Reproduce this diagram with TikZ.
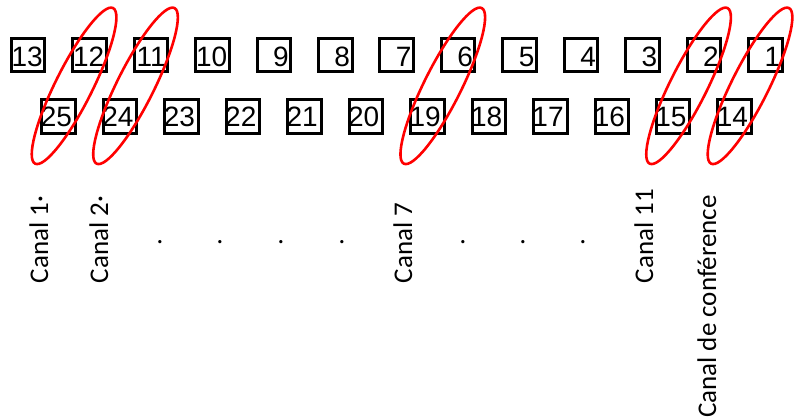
\documentclass[tikz,border=0pt]{standalone}
\usepackage{fontspec}
\setmainfont{Carlito}
\newfontfamily\numfont{Liberation Sans}
\usetikzlibrary{shapes.geometric,calc}
\begin{document}
\begin{tikzpicture}[x=1pt,y=-1pt,
  numbox/.style={draw=black, line width=3pt, minimum size=33.5pt, inner sep=0pt},
  numlbl/.style={inner sep=0pt, anchor=base east, font=\numfont\fontsize{28}{30}\selectfont},
  ring/.style={draw=red, line width=2.6pt, ellipse, minimum width=174pt, minimum height=37pt, inner sep=0pt, rotate=63.4},
  lbl/.style={inner sep=0pt, rotate=90, anchor=base west, font=\fontsize{27}{30}\selectfont}]
\useasboundingbox (0,0) rectangle (794,418);
% top row
\foreach \k in {0,...,12}{
  \pgfmathtruncatemacro\n{13-\k}
  \node[numbox] (n\n) at ({28+61.45*\k},55) {};
  \node[numlbl] (t\n) at ([shift={(15,11.7)}]n\n.center) {\n};
}
% bottom row
\foreach \k in {0,...,11}{
  \pgfmathtruncatemacro\n{25-\k}
  \node[numbox] (n\n) at ({58.7+61.45*\k},116.7) {};
  \node[numlbl] (t\n) at ([shift={(13.5,10)}]n\n.center) {\n};
}
% ellipses
\foreach \a/\b in {12/25,11/24,6/19,2/15,1/14}
  \node[ring] (e\a) at ($(n\a)!0.5!(n\b)$) {};
% labels
\node[lbl] (c1) at (48,283.5) {Canal 1·};
\node[lbl] (c2) at (108,283.5) {Canal 2·};
\node[lbl] (c7) at (412,283.5) {Canal 7};
\node[lbl] (c11) at (653,283.5) {Canal 11};
\node[lbl] (cc) at (716,418) {Canal de conférence};
\foreach \x [count=\i] in {160,220,281,342,463,523,583}
  \node[lbl] (d\i) at ({\x+1.4},245.2) {.};
\end{tikzpicture}
\end{document}
